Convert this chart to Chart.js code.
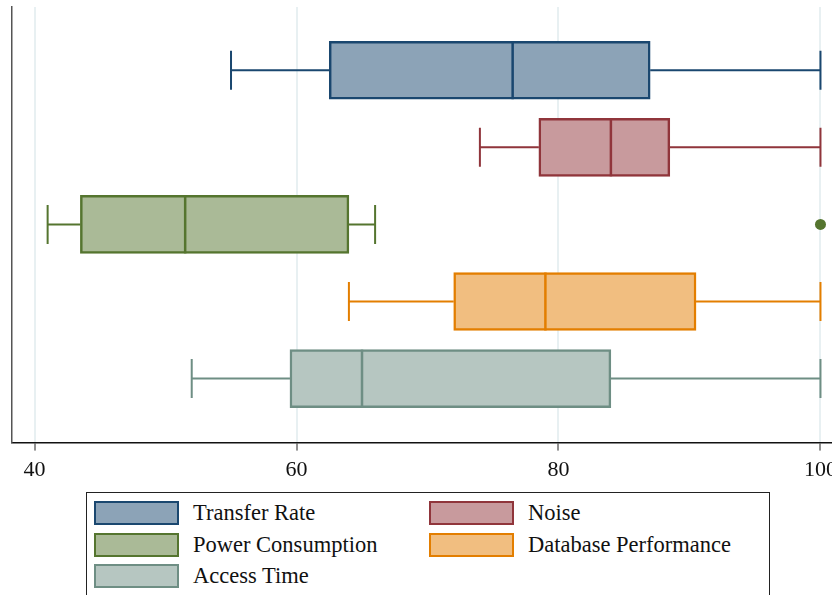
<!DOCTYPE html>
<html lang="en">
<head>
  <meta charset="UTF-8" />
  <title>Box plot</title>
  <script src="https://cdn.jsdelivr.net/npm/chart.js"></script>
  <style>
    body { margin: 0; background: #fff; width: 832px; height: 595px; overflow: hidden; position: relative; }
    #wrap { position: absolute; left: 0; top: 0; width: 832px; height: 489px; }
    #legend { position: absolute; left: 86px; top: 492px; width: 684px; height: 130px; box-sizing: border-box;
              border: 1px solid #222; display: grid; grid-template-columns: 335px auto; grid-auto-rows: 24px;
              row-gap: 7.5px; padding: 8px 0 0 7px; align-content: start; }
    .item { display: flex; align-items: center; height: 24px; font-family: "Liberation Serif"; font-size: 22.5px;
            color: #111; white-space: nowrap; }
    .sw { width: 85px; height: 24px; box-sizing: border-box; border: 2px solid; margin-right: 14px; flex: none; }
  </style>
</head>
<body>
  <div id="wrap"><canvas id="box"></canvas></div>
  <div id="legend"></div>

  <script>
    const categories = ["Transfer Rate", "Noise", "Power Consumption", "Database Performance", "Access Time"];
    const mins    = [55, 74, 41, 64, 52];
    const q1s     = [62.5, 78.5, 43.5, 72, 59.5];
    const medians = [76.5, 84, 51.5, 79, 65];
    const q3s     = [87, 88.5, 64, 90.5, 84];
    const maxs    = [100, 100, 66, 100, 100];
    const outliers = [{ cat: 2, value: 100 }];
    const xTicks  = [40, 60, 80, 100];

    const lineColors = ["#1a476f", "#90353b", "#55752f", "#e37e00", "#6e8e84"];
    const fillColors = ["#8ca3b7", "#c89a9d", "#aaba97", "#f1be80", "#b6c6c1"];

    // legend
    const legend = document.getElementById("legend");
    categories.forEach((c, i) => {
      legend.innerHTML += `<div class="item"><div class="sw" style="background:${fillColors[i]};border-color:${lineColors[i]}"></div>${c}</div>`;
    });

    const capHalf = 19.5;

    const boxParts = {
      id: "boxParts",
      beforeDatasetsDraw(chart) {
        const { ctx, scales: { x, y } } = chart;
        ctx.save();
        ctx.lineWidth = 2;
        categories.forEach((c, i) => {
          const cy = y.getPixelForValue(i);
          ctx.strokeStyle = lineColors[i];
          ctx.beginPath();
          ctx.moveTo(x.getPixelForValue(mins[i]), cy);
          ctx.lineTo(x.getPixelForValue(q1s[i]), cy);
          ctx.moveTo(x.getPixelForValue(q3s[i]), cy);
          ctx.lineTo(x.getPixelForValue(maxs[i]), cy);
          [mins[i], maxs[i]].forEach(v => {
            const px = x.getPixelForValue(v);
            ctx.moveTo(px, cy - capHalf);
            ctx.lineTo(px, cy + capHalf);
          });
          ctx.stroke();
        });
        ctx.restore();
      },
      afterDatasetsDraw(chart) {
        const { ctx, scales: { x } } = chart;
        const meta = chart.getDatasetMeta(0);
        ctx.save();
        ctx.lineWidth = 2.5;
        categories.forEach((c, i) => {
          const bar = meta.data[i];
          const px = x.getPixelForValue(medians[i]);
          const half = bar.height / 2;
          ctx.strokeStyle = lineColors[i];
          ctx.beginPath();
          ctx.moveTo(px, bar.y - half);
          ctx.lineTo(px, bar.y + half);
          ctx.stroke();
        });
        ctx.restore();
      }
    };

    function drawChart() {
      new Chart(document.getElementById("box"), {
        data: {
          datasets: [{
            type: "bar",
            data: categories.map((c, i) => ({ x: [q1s[i], q3s[i]], y: i })),
            backgroundColor: fillColors,
            borderColor: lineColors,
            borderWidth: 2.5,
            borderSkipped: false,
            barThickness: 58
          }, {
            type: "scatter",
            data: outliers.map(o => ({ x: o.value, y: o.cat })),
            backgroundColor: outliers.map(o => lineColors[o.cat]),
            borderWidth: 0,
            pointRadius: 5.5
          }]
        },
        options: {
          indexAxis: "y",
          responsive: true,
          maintainAspectRatio: false,
          animation: false,
          layout: { autoPadding: false, padding: { left: 12, top: 7, right: 0, bottom: 0 } },
          plugins: { legend: { display: false }, tooltip: { enabled: false } },
          scales: {
            x: {
              type: "linear",
              min: 38.28,
              max: 100.88,
              afterBuildTicks: s => { s.ticks = xTicks.map(v => ({ value: v })); },
              afterFit: s => { s.paddingLeft = 0; s.paddingRight = 0; },
              grid: { color: "#e8f0f2", lineWidth: 2, tickColor: "#222", tickWidth: 1, tickLength: 8 },
              border: { display: true, color: "#111", width: 1.5 },
              ticks: { font: { family: "'Liberation Serif'", size: 22 }, color: "#111", padding: 6 }
            },
            y: {
              type: "linear",
              offset: false,
              min: -0.82,
              max: 4.83,
              reverse: true,
              ticks: { display: false },
              grid: { display: false, drawTicks: false, tickLength: 0 },
              border: { display: true, color: "#555", width: 1.5 }
            }
          }
        },
        plugins: [boxParts]
      });
    }

    // wait for the serif face so the canvas tick labels use it
    document.fonts.load('22px "Liberation Serif"').then(drawChart, drawChart);
  </script>
</body>
</html>
